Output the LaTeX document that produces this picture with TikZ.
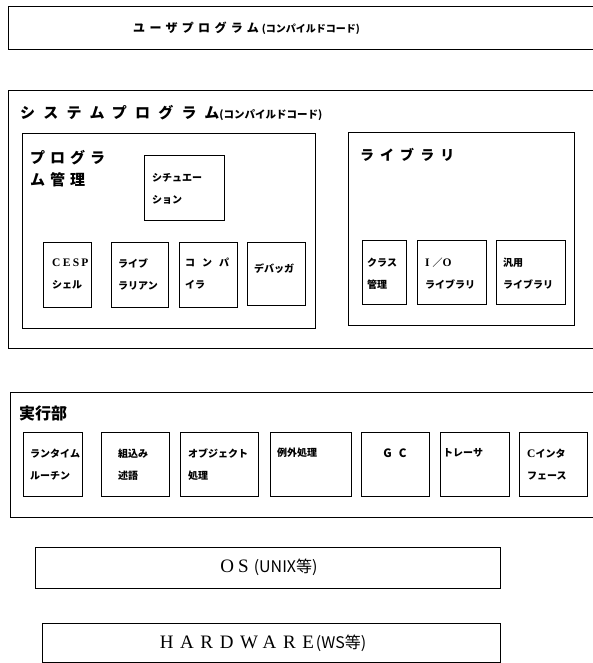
\documentclass[tikz,border=0pt]{standalone}
\usepackage{fontspec}
\setmainfont{Liberation Serif}
\newfontfamily\jp{Noto Sans CJK JP}
\newcommand\myls[2]{{\addfontfeature{LetterSpace=#1}#2}}
\tikzset{
  outer/.style={draw, line width=1.3pt, anchor=north west, inner sep=0pt},
  frame/.style={draw, line width=1pt, anchor=north west, inner sep=0pt},
  sbox/.style={draw, line width=1pt, anchor=north west, inner sep=0pt},
  lbl/.style={anchor=west, inner sep=0pt, align=left, font=\jp\bfseries\fontsize{10}{22}\selectfont},
  ttl/.style={anchor=west, inner sep=0pt, align=left, font=\jp\bfseries},
}
\begin{document}
\begin{tikzpicture}[x=1pt,y=-1pt]
\useasboundingbox (0,0) rectangle (592,663);
% user program
\node[outer, minimum width=600pt, minimum height=43pt] (user) at (8,6) {};
\node[ttl] (usert) at (133,28) {{\fontsize{12}{12}\selectfont\myls{36}{ユーザプログラム}}\hspace{3pt}{\fontsize{10}{10}\selectfont (コンパイルドコード)}};
% system program
\node[outer, minimum width=600pt, minimum height=258pt] (sys) at (8,90) {};
\node[ttl] (syst) at (20,113) {{\fontsize{15}{15}\selectfont\myls{55}{システムプログラム}}{\fontsize{10.5}{10}\selectfont(コンパイルドコード)}};
% program management
\node[frame, minimum width=293pt, minimum height=195pt] (pm) at (22,133) {};
\node[ttl, font=\jp\bfseries\fontsize{15}{22}\selectfont] (pmt) at (30,169) {\myls{33}{プログラ}\\\myls{33}{ム管理}};
\node[sbox, minimum width=80pt, minimum height=65pt] (sit) at (144,155) {};
\node[lbl] (sitl) at (152,189) {シチュエー\\ション};
\node[sbox, minimum width=48pt, minimum height=65pt] (cesp) at (43,242) {};
\node[lbl] (cespl) at (52,274) {{\rmfamily\fontsize{11.5}{22}\selectfont\myls{20}{CESP}}\\シェル};
\node[sbox, minimum width=57pt, minimum height=65pt] (libr) at (111,242) {};
\node[lbl] (librl) at (118,274) {ライブ\\ラリアン};
\node[sbox, minimum width=58pt, minimum height=65pt] (comp) at (179,242) {};
\node[lbl] (compl) at (185,274) {コ\hspace{7pt}ン\hspace{7pt}パ\\イラ};
\node[sbox, minimum width=58pt, minimum height=63pt] (dbg) at (247,242) {};
\node[lbl] (dbgl) at (254,269) {デバッガ};
% library
\node[frame, minimum width=226pt, minimum height=193pt] (lib) at (348,132) {};
\node[ttl, font=\jp\bfseries\fontsize{14}{14}\selectfont] (libt) at (360,155) {\myls{43}{ライブラリ}};
\node[sbox, minimum width=44pt, minimum height=64pt] (cls) at (362,240) {};
\node[lbl] (clsl) at (367,274) {クラス\\管理};
\node[sbox, minimum width=69pt, minimum height=64pt] (io) at (417,240) {};
\node[lbl] (iol) at (425,274) {{\rmfamily\fontsize{11.5}{22}\selectfont I}\hspace{3pt}／{\rmfamily\fontsize{11.5}{22}\selectfont O}\\ライブラリ};
\node[sbox, minimum width=69pt, minimum height=64pt] (gen) at (496,240) {};
\node[lbl] (genl) at (503,274) {汎用\\ライブラリ};
% execution part
\node[outer, minimum width=600pt, minimum height=125pt] (exec) at (10,392) {};
\node[ttl, font=\jp\bfseries\fontsize{16}{16}\selectfont] (exect) at (19,413) {実行部};
\node[sbox, minimum width=59pt, minimum height=64pt] (e1) at (23,432) {};
\node[lbl] (e1l) at (30,465) {ランタイム\\ルーチン};
\node[sbox, minimum width=68pt, minimum height=64pt] (e2) at (101,432) {};
\node[lbl] (e2l) at (118,465) {組込み\\述語};
\node[sbox, minimum width=78pt, minimum height=64pt] (e3) at (180,432) {};
\node[lbl] (e3l) at (188,465) {オブジェクト\\処理};
\node[sbox, minimum width=81pt, minimum height=64pt] (e4) at (270,432) {};
\node[lbl] (e4l) at (277,453) {例外処理};
\node[sbox, minimum width=68pt, minimum height=64pt] (e5) at (361,432) {};
\node[lbl, anchor=center] (e5l) at (395,453) {\fontsize{11.5}{12}\selectfont G\hspace{7pt}C};
\node[sbox, minimum width=69pt, minimum height=64pt] (e6) at (440,432) {};
\node[lbl] (e6l) at (443,453) {トレーサ};
\node[sbox, minimum width=68pt, minimum height=64pt] (e7) at (519,432) {};
\node[lbl] (e7l) at (527,465) {{\rmfamily\fontsize{11.5}{22}\selectfont C}インタ\\フェース};
% OS and hardware
\node[frame, minimum width=465pt, minimum height=41pt] (os) at (35,547) {};
\node[ttl, anchor=center, font=\jp] (ost) at (269,567) {{\rmfamily\fontsize{19}{19}\selectfont O\hspace{4pt}S}\hspace{5pt}{\fontsize{16}{16}\selectfont (UNIX等)}};
\node[frame, minimum width=458pt, minimum height=39pt] (hw) at (42,623) {};
\node[ttl, anchor=center, font=\jp] (hwt) at (263,643) {{\rmfamily\fontsize{19}{19}\selectfont\myls{35}{HARDWARE}}\hspace{2pt}{\fontsize{16}{16}\selectfont (WS等)}};
\end{tikzpicture}
\end{document}
